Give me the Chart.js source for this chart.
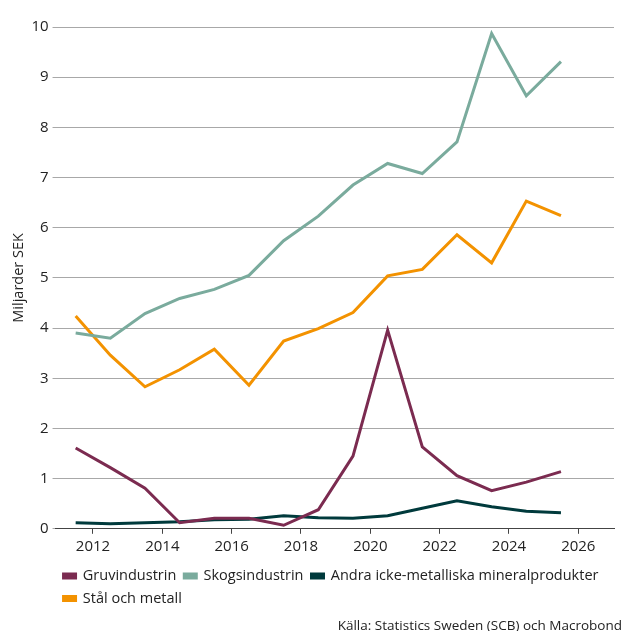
<!DOCTYPE html>
<html>
<head>
<meta charset="utf-8">
<script src="https://cdn.jsdelivr.net/npm/chart.js@4/dist/chart.umd.min.js"></script>
<style>
  html, body { margin: 0; padding: 0; background: #ffffff; }
  #wrap { width: 625px; height: 631px; position: relative; }
</style>
</head>
<body>
<div id="wrap"><canvas id="chart" width="625" height="631"></canvas></div>
<script>
// Annual values, plotted at mid-year
const years = [2011, 2012, 2013, 2014, 2015, 2016, 2017, 2018, 2019, 2020, 2021, 2022, 2023, 2024, 2025];
const xTickYears = [2012, 2014, 2016, 2018, 2020, 2022, 2024, 2026];
const yTicks = [0, 1, 2, 3, 4, 5, 6, 7, 8, 9, 10];

const gruvindustrin = [1.61, 1.22, 0.81, 0.12, 0.21, 0.21, 0.07, 0.38, 1.45, 3.96, 1.63, 1.06, 0.76, 0.93, 1.14];
const skogsindustrin = [3.90, 3.80, 4.29, 4.59, 4.77, 5.05, 5.74, 6.23, 6.85, 7.28, 7.08, 7.71, 9.87, 8.63, 9.31];
const andraMineral = [0.12, 0.10, 0.12, 0.14, 0.18, 0.19, 0.26, 0.22, 0.21, 0.26, 0.41, 0.56, 0.44, 0.35, 0.32];
const stalOchMetall = [4.24, 3.46, 2.83, 3.17, 3.58, 2.86, 3.74, 3.99, 4.31, 5.04, 5.17, 5.86, 5.30, 6.53, 6.24];

const seriesNames = ['Gruvindustrin', 'Skogsindustrin', 'Andra icke-metalliska mineralprodukter', 'Stål och metall'];
const seriesColors = ['#7b2b50', '#7aab9d', '#003a3c', '#f39200'];
const seriesValues = [gruvindustrin, skogsindustrin, andraMineral, stalOchMetall];

const toPoints = vals => vals.map((v, i) => ({ x: years[i] + 0.5, y: v }));

const FONT = "'Open Sans', 'Noto Sans', sans-serif";
const TEXT = '#222222';

new Chart(document.getElementById('chart'), {
  type: 'line',
  data: {
    datasets: seriesValues.map((vals, i) => ({
      label: seriesNames[i],
      data: toPoints(vals),
      borderColor: seriesColors[i],
      backgroundColor: seriesColors[i],
      borderWidth: 3,
      pointRadius: 0,
      tension: 0,
      borderJoinStyle: 'miter'
    }))
  },
  options: {
    responsive: false,
    animation: false,
    devicePixelRatio: 1,
    layout: { padding: { top: 27, right: 3, left: 10, bottom: 0 } },
    scales: {
      x: {
        type: 'linear',
        min: 2010.92,
        max: 2027.03,
        afterBuildTicks: scale => { scale.ticks = xTickYears.map(v => ({ value: v })); },
        afterFit: scale => { scale.height += 1; },
        ticks: {
          callback: v => String(v),
          color: TEXT,
          font: { family: FONT, size: 15 },
          padding: 4,
          maxRotation: 0,
          autoSkip: false
        },
        grid: { drawOnChartArea: false, drawTicks: true, tickLength: 5, color: '#444444', lineWidth: 1 },
        border: { display: true, color: '#444444', width: 1 }
      },
      y: {
        min: 0,
        max: 10,
        afterBuildTicks: scale => { scale.ticks = yTicks.map(v => ({ value: v })); },
        ticks: {
          color: TEXT,
          font: { family: FONT, size: 15 },
          padding: 4
        },
        grid: { color: '#a8a8a8', lineWidth: 1, tickLength: 3 },
        border: { display: false },
        title: {
          display: true,
          text: 'Miljarder SEK',
          color: TEXT,
          font: { family: FONT, size: 14.5 },
          padding: { top: 0, bottom: 0 }
        }
      },
      // empty right-hand margin so the plot stops short of the source line
      yRight: {
        position: 'right',
        min: 0,
        max: 10,
        grid: { display: false },
        border: { display: false },
        ticks: { display: false },
        afterFit: scale => { scale.width = 8; }
      }
    },
    plugins: {
      legend: {
        position: 'bottom',
        align: 'start',
        fullSize: false,
        labels: {
          boxWidth: 12,
          boxHeight: 4,
          padding: 8,
          color: TEXT,
          font: { family: FONT, size: 14.5 }
        }
      },
      subtitle: {
        display: true,
        position: 'bottom',
        align: 'end',
        text: 'Källa: Statistics Sweden (SCB) och Macrobond',
        color: TEXT,
        font: { family: FONT, size: 13.5, weight: 'normal' },
        padding: { top: 2, bottom: -3 }
      },
      tooltip: { enabled: false }
    }
  }
});
</script>
</body>
</html>
